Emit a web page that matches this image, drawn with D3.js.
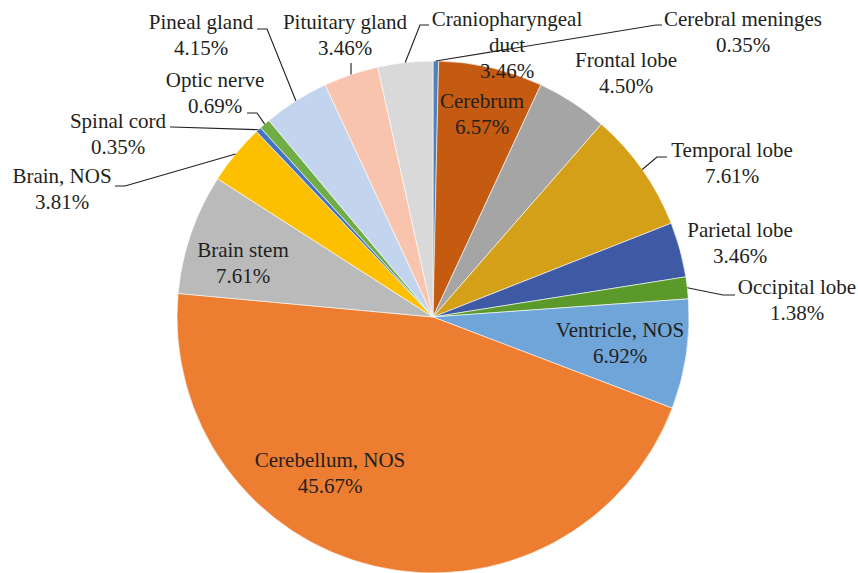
<!DOCTYPE html>
<html>
<head>
<meta charset="utf-8">
<script src="https://cdn.jsdelivr.net/npm/d3@7"></script>
<style>
  body { margin: 0; background: #fff; }
  svg text { font-family: "Liberation Serif", "DejaVu Serif", serif; font-size: 21px; fill: #231f20; }
</style>
</head>
<body>
<svg id="pieSpace"></svg>
<script>
// slices clockwise from 12 o'clock
const sites = ["Cerebral meninges", "Cerebrum", "Frontal lobe", "Temporal lobe", "Parietal lobe",
  "Occipital lobe", "Ventricle, NOS", "Cerebellum, NOS", "Brain stem", "Brain, NOS",
  "Spinal cord", "Optic nerve", "Pineal gland", "Pituitary gland", "Craniopharyngeal duct"];
const shares = [0.35, 6.57, 4.50, 7.61, 3.46, 1.38, 6.92, 45.67, 7.61, 3.81, 0.35, 0.69, 4.15, 3.46, 3.46];
const sliceColors = ["#4f81bd", "#c55a11", "#a5a5a5", "#d4a017", "#3f5aa4", "#5b9a2a", "#6fa5d8",
  "#ed7d31", "#bababa", "#fcc000", "#4472c4", "#70ad47", "#c3d4ee", "#f8c4ad", "#d9d9d9"];

const w = 858, h = 573;
const cx = 433, cy = 317, r = 256;
const lineH = 26;

// label placement: text centre x, first baseline y, optional leader (elbow, end)
const labelPos = {
  "Cerebral meninges": { x: 743, y: 26, leader: [[656, 25], [662, 25]] },
  "Cerebrum": { x: 482, y: 108 },
  "Frontal lobe": { x: 626, y: 67 },
  "Temporal lobe": { x: 732, y: 157, leader: [[657, 157], [667, 157]] },
  "Parietal lobe": { x: 740, y: 237 },
  "Occipital lobe": { x: 797, y: 294, leader: [[723, 295], [735, 295]] },
  "Ventricle, NOS": { x: 620, y: 337 },
  "Cerebellum, NOS": { x: 330, y: 467 },
  "Brain stem": { x: 243, y: 257 },
  "Brain, NOS": { x: 62, y: 183, leader: [[125, 186], [115, 186]] },
  "Spinal cord": { x: 118, y: 128, leader: [[172, 127], [170, 127]] },
  "Optic nerve": { x: 215, y: 87, leader: [[257, 113], [247, 113]] },
  "Pineal gland": { x: 201, y: 29, leader: [[267, 29], [257, 29]] },
  "Pituitary gland": { x: 345, y: 29, leader: [[351, 63], [351, 63]] },
  "Craniopharyngeal duct": { x: 507, y: 26, lines: ["Craniopharyngeal", "duct"], leader: [[420, 25], [429, 25]] }
};

const data = sites.map((s, i) => ({ site: s, value: shares[i], color: sliceColors[i] }));

const svg = d3.select("#pieSpace").attr("width", w).attr("height", h);

const pie = d3.pie().value(d => d.value).sort(null);
const arcs = pie(data);
const arc = d3.arc().innerRadius(0).outerRadius(r);

const g = svg.append("g").attr("transform", `translate(${cx},${cy})`);
g.selectAll("path")
  .data(arcs)
  .enter()
  .append("path")
  .attr("d", arc)
  .attr("fill", d => d.data.color)
  .attr("stroke", "#fff")
  .attr("stroke-width", 0.6);

// leader lines from the slice rim to the label
const edgePoint = a => {
  const m = (a.startAngle + a.endAngle) / 2;
  return [cx + r * Math.sin(m), cy - r * Math.cos(m)];
};
arcs.filter(a => labelPos[a.data.site].leader).forEach(a => {
  const pts = [edgePoint(a)].concat(labelPos[a.data.site].leader);
  svg.append("path")
    .attr("d", d3.line()(pts))
    .attr("fill", "none")
    .attr("stroke", "#231f20")
    .attr("stroke-width", 1.1);
});

// labels
arcs.forEach(a => {
  const p = labelPos[a.data.site];
  const lines = (p.lines || [a.data.site]).concat([a.data.value.toFixed(2) + "%"]);
  const t = svg.append("text").attr("text-anchor", "middle");
  lines.forEach((ln, i) => {
    t.append("tspan").attr("x", p.x).attr("y", p.y + i * lineH).text(ln);
  });
});
</script>
</body>
</html>
